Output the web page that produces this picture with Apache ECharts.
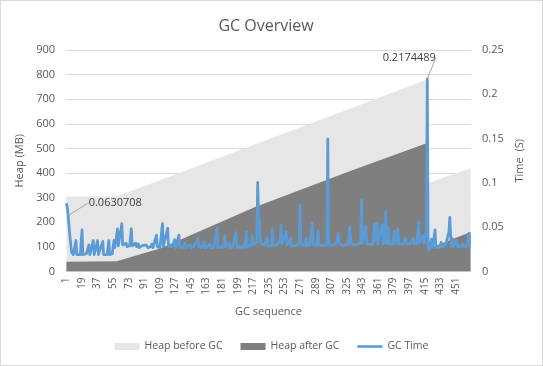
<!DOCTYPE html>
<html>
<head>
<meta charset="utf-8">
<script src="https://cdn.jsdelivr.net/npm/echarts@6/dist/echarts.min.js"></script>
<style>
  html, body { margin: 0; padding: 0; background: #fff; }
  #wrap { position: relative; width: 543px; height: 366px; }
  #chart { width: 543px; height: 366px; }
  #frame { position: absolute; left: 0; top: 0; right: 0; bottom: 0; border: 1px solid #d9d9d9; pointer-events: none; }
</style>
</head>
<body>
<div id="wrap"><div id="chart"></div><div id="frame"></div></div>
<script>
// ---------- DATA ----------
const categoryCount = 468;
const categories = [];
for (let i = 1; i <= categoryCount; i++) categories.push(String(i));

const heapTicks = [0, 100, 200, 300, 400, 500, 600, 700, 800, 900];
const timeTicks = [0, 0.05, 0.1, 0.15, 0.2, 0.25];

// [GC sequence, MB]
const heapBefore = [[1, 305], [59, 305], [418, 780], [419, 360], [468, 420]];
const heapAfter = [[1, 40], [59, 42], [110, 94], [219, 262], [329, 408], [418, 522], [419, 92], [468, 160]];

// [GC sequence, seconds]
const gcTime = [
  [1,0.077],[2,0.072],[3,0.0630708],[5,0.040],[7,0.022],[9,0.019],[11,0.019],[12,0.035],[13,0.019],[15,0.018],
  [17,0.019],[19,0.047],[20,0.019],[22,0.018],[24,0.020],[27,0.030],[28,0.019],[30,0.019],[32,0.035],[33,0.019],
  [35,0.018],[37,0.035],[38,0.019],[40,0.019],[43,0.034],[44,0.019],[46,0.018],[48,0.019],[50,0.035],[51,0.019],
  [53,0.019],[54,0.020],[55,0.029],[56,0.035],[57,0.027],[58,0.028],[60,0.048],[61,0.029],[63,0.028],[65,0.054],
  [66,0.030],[68,0.028],[70,0.032],[71,0.028],[74,0.029],[76,0.048],[77,0.029],[79,0.028],[81,0.032],[82,0.028],
  [84,0.031],[85,0.027],[88,0.029],[90,0.028],[93,0.030],[95,0.027],[98,0.028],[100,0.031],[101,0.027],[103,0.028],
  [105,0.041],[106,0.028],[109,0.027],[112,0.054],[113,0.028],[115,0.027],[118,0.049],[119,0.028],[121,0.027],[123,0.028],
  [126,0.036],[127,0.027],[129,0.028],[131,0.041],[132,0.028],[135,0.027],[138,0.032],[139,0.027],[141,0.028],[144,0.030],
  [145,0.027],[148,0.028],[150,0.029],[153,0.0375],[154,0.028],[157,0.027],[160,0.033],[161,0.027],[164,0.028],[167,0.031],
  [168,0.027],[171,0.027],[173,0.028],[175,0.049],[176,0.027],[179,0.028],[182,0.027],[184,0.040],[185,0.028],[187,0.027],
  [189,0.032],[190,0.027],[193,0.028],[195,0.027],[197,0.044],[198,0.027],[201,0.028],[204,0.027],[206,0.030],[207,0.027],
  [209,0.045],[210,0.028],[212,0.030],[214,0.029],[216,0.040],[217,0.030],[219,0.029],[221,0.033],[222,0.1007],[223,0.062],
  [224,0.058],[225,0.035],[226,0.031],[228,0.029],[230,0.030],[233,0.0386],[234,0.029],[236,0.030],[238,0.029],[239,0.0476],
  [240,0.030],[242,0.029],[244,0.030],[246,0.029],[248,0.035],[249,0.0525],[250,0.031],[252,0.030],[255,0.045],[256,0.030],
  [258,0.029],[260,0.0375],[261,0.029],[263,0.030],[266,0.029],[268,0.030],[270,0.032],[271,0.075],[272,0.031],[274,0.030],
  [276,0.029],[278,0.0375],[279,0.029],[282,0.030],[284,0.031],[285,0.055],[286,0.031],[288,0.030],[290,0.029],[292,0.046],
  [293,0.030],[296,0.029],[299,0.030],[301,0.029],[302,0.030],[303,0.1495],[304,0.030],[306,0.029],[309,0.030],[312,0.031],
  [314,0.036],[315,0.043],[316,0.032],[318,0.030],[321,0.029],[324,0.030],[327,0.031],[328,0.050],[329,0.049],[330,0.031],
  [332,0.031],[335,0.030],[338,0.031],[341,0.032],[342,0.0807],[343,0.032],[345,0.031],[347,0.051],[348,0.031],[350,0.030],
  [352,0.031],[355,0.030],[357,0.0536],[358,0.035],[360,0.055],[361,0.031],[363,0.030],[366,0.053],[367,0.031],[368,0.035],
  [370,0.0675],[371,0.032],[373,0.049],[374,0.031],[376,0.030],[378,0.031],[380,0.046],[381,0.031],[383,0.032],[384,0.048],
  [385,0.031],[387,0.030],[390,0.031],[393,0.0375],[394,0.031],[396,0.030],[398,0.031],[400,0.032],[402,0.0375],[403,0.031],
  [405,0.032],[406,0.031],[408,0.056],[409,0.032],[411,0.033],[413,0.040],[414,0.032],[416,0.034],[417,0.045],[418,0.2174489],
  [419,0.024],[420,0.026],[421,0.027],[423,0.0367],[424,0.027],[425,0.026],[427,0.047],[428,0.027],[430,0.029],[432,0.027],
  [434,0.033],[435,0.028],[437,0.027],[439,0.029],[441,0.028],[443,0.045],[444,0.061],[445,0.040],[446,0.028],[447,0.037],
  [448,0.028],[450,0.029],[452,0.035],[453,0.028],[455,0.029],[457,0.028],[459,0.031],[460,0.028],[462,0.029],[464,0.028],
  [466,0.043],[467,0.030],[468,0.030]
];

// labelled points of the GC Time series
const labelledTimes = [0.0630708, 0.2174489];

// ---------- CHART ----------
const FONT = 'Open Sans';
const GREY = '#595959';
const toCat = arr => arr.map(p => [String(p[0]), p[1]]);

const timeData = gcTime.map(p => {
  const item = { value: [String(p[0]), p[1]] };
  if (labelledTimes.indexOf(p[1]) >= 0) {
    item.symbol = 'circle';
    item.symbolSize = 1;
    item.itemStyle = { color: '#5b9bd5' };
    item.label = {
      show: true,
      formatter: String(p[1]),
      position: p[1] > 0.1 ? 'top' : 'right',
      color: '#404040',
      fontFamily: FONT,
      fontSize: 11
    };
    item.labelLine = { show: true, lineStyle: { color: '#a6a6a6', width: 1 } };
  }
  return item;
});

const chart = echarts.init(document.getElementById('chart'), null, { renderer: 'canvas' });
chart.setOption({
  backgroundColor: '#ffffff',
  animation: false,
  textStyle: { fontFamily: FONT },
  title: {
    text: 'GC Overview',
    left: 261,
    top: 13,
    textAlign: 'center',
    textStyle: { fontFamily: FONT, fontSize: 16, fontWeight: 'normal', color: GREY }
  },
  legend: {
    bottom: 9,
    left: 'center',
    itemWidth: 25,
    itemHeight: 7,
    itemGap: 18,
    symbolKeepAspect: true,
    textStyle: { fontFamily: FONT, fontSize: 10.5, color: GREY },
    data: [
      { name: 'Heap before GC', icon: 'rect' },
      { name: 'Heap after GC', icon: 'rect' },
      { name: 'GC Time', icon: 'path://M0,0 L25,0 L25,2.6 L0,2.6 Z' }
    ]
  },
  grid: { left: 66, right: 72, top: 50, bottom: 94.5 },
  xAxis: {
    type: 'category',
    data: categories,
    boundaryGap: true,
    name: 'GC sequence',
    nameLocation: 'middle',
    nameGap: 35,
    nameTextStyle: { fontFamily: FONT, fontSize: 11, color: GREY },
    axisLine: { show: true, lineStyle: { color: '#d9d9d9' } },
    axisTick: { show: false },
    axisLabel: { interval: 17, rotate: 90, fontSize: 10, color: GREY, fontFamily: FONT, margin: 6 },
    splitLine: { show: false }
  },
  yAxis: [
    {
      type: 'value',
      min: heapTicks[0],
      max: heapTicks[heapTicks.length - 1],
      interval: heapTicks[1] - heapTicks[0],
      name: 'Heap (MB)',
      nameLocation: 'middle',
      nameGap: 27,
      nameTextStyle: { fontFamily: FONT, fontSize: 11, color: GREY },
      axisLine: { show: false },
      axisTick: { show: false },
      axisLabel: { fontSize: 11, color: GREY, fontFamily: FONT, margin: 11 },
      splitLine: { lineStyle: { color: '#d9d9d9', width: 1 } }
    },
    {
      type: 'value',
      min: timeTicks[0],
      max: timeTicks[timeTicks.length - 1],
      interval: timeTicks[1] - timeTicks[0],
      position: 'right',
      name: 'Time  (S)',
      nameLocation: 'middle',
      nameGap: 37,
      nameRotate: 90,
      nameTextStyle: { fontFamily: FONT, fontSize: 11, color: GREY },
      axisLine: { show: false },
      axisTick: { show: false },
      axisLabel: { fontSize: 11, color: GREY, fontFamily: FONT, margin: 11 },
      splitLine: { show: false }
    }
  ],
  series: [
    {
      name: 'Heap before GC',
      type: 'line',
      yAxisIndex: 0,
      data: toCat(heapBefore),
      symbol: 'none',
      color: '#e6e6e6',
      lineStyle: { width: 0, color: '#e6e6e6' },
      areaStyle: { color: '#e6e6e6', opacity: 1 },
      z: 1
    },
    {
      name: 'Heap after GC',
      type: 'line',
      yAxisIndex: 0,
      data: toCat(heapAfter),
      symbol: 'none',
      color: '#7f7f7f',
      lineStyle: { width: 0, color: '#7f7f7f' },
      areaStyle: { color: '#7f7f7f', opacity: 1 },
      z: 2
    },
    {
      name: 'GC Time',
      type: 'line',
      yAxisIndex: 1,
      data: timeData,
      symbol: 'none',
      showSymbol: true,
      showAllSymbol: true,
      color: '#5b9bd5',
      lineStyle: { width: 2.75, color: '#5b9bd5', join: 'round' },
      z: 3,
      labelLayout: function (p) {
        if (p.text === '0.0630708') return { dx: 15, dy: -13 };
        if (p.text === '0.2174489') return { dx: -18, dy: -10 };
        return {};
      }
    }
  ]
});
</script>
</body>
</html>
